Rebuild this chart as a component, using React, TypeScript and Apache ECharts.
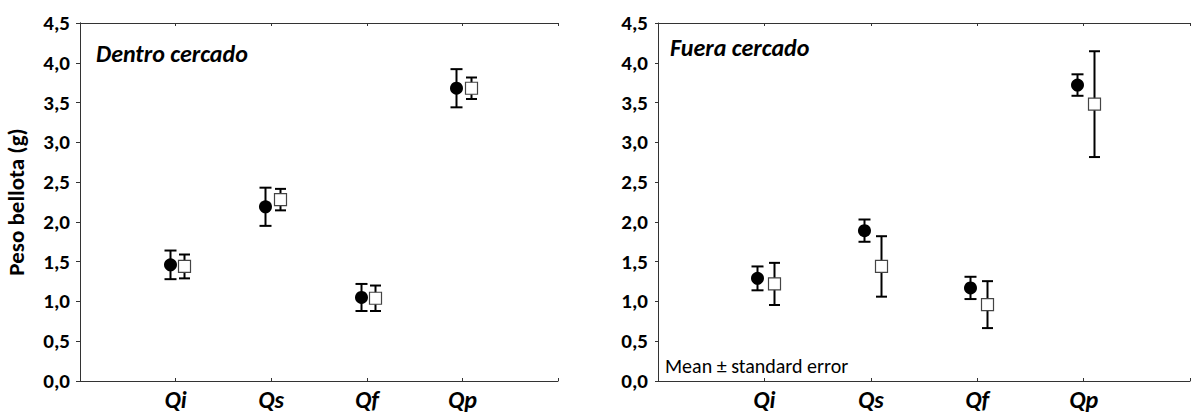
import React, { useEffect, useRef } from "react";
import * as echarts from "echarts";

// Species on the x axis
const categories = ["Qi", "Qs", "Qf", "Qp"];
const yTicks = [0, 0.5, 1, 1.5, 2, 2.5, 3, 3.5, 4, 4.5];

// Dentro cercado: filled circles and open squares (mean and standard error, g)
const dentroCircleMean = [1.46, 2.19, 1.05, 3.68];
const dentroCircleSE = [0.18, 0.24, 0.17, 0.24];
const dentroSquareMean = [1.44, 2.28, 1.04, 3.68];
const dentroSquareSE = [0.15, 0.135, 0.16, 0.135];

// Fuera cercado
const fueraCircleMean = [1.29, 1.89, 1.17, 3.72];
const fueraCircleSE = [0.15, 0.14, 0.14, 0.135];
const fueraSquareMean = [1.22, 1.44, 0.96, 3.48];
const fueraSquareSE = [0.265, 0.38, 0.295, 0.665];

const FONT = 'Carlito, "Open Sans", sans-serif';
const AXIS_COLOR = "#333";

function toData(mean: number[], se: number[]) {
  return categories.map((_, i) => [i + 1, mean[i], se[i]]);
}

function errorSeries(
  gridIndex: number,
  data: number[][],
  kind: "circle" | "square",
  dx: number
) {
  return {
    type: "custom",
    xAxisIndex: gridIndex * 2,
    yAxisIndex: gridIndex * 2,
    data,
    clip: false,
    renderItem: (params: any, api: any) => {
      const x = api.value(0);
      const m = api.value(1);
      const s = api.value(2);
      const c = api.coord([x, m]);
      const hi = api.coord([x, m + s]);
      const lo = api.coord([x, m - s]);
      const px = Math.round(c[0] + dx) + 0.5;
      const cap = kind === "circle" ? 6 : 5.5;
      const line = { stroke: "#000", lineWidth: 2 };
      const children: any[] = [
        { type: "line", shape: { x1: px, y1: hi[1], x2: px, y2: lo[1] }, style: line },
        { type: "line", shape: { x1: px - cap, y1: hi[1], x2: px + cap, y2: hi[1] }, style: line },
        { type: "line", shape: { x1: px - cap, y1: lo[1], x2: px + cap, y2: lo[1] }, style: line },
      ];
      if (kind === "circle") {
        children.push({
          type: "circle",
          shape: { cx: px, cy: c[1], r: 6.5 },
          style: { fill: "#000" },
        });
      } else {
        children.push({
          type: "rect",
          shape: { x: px - 6, y: c[1] - 6, width: 12, height: 12 },
          style: { fill: "#fff", stroke: "#444", lineWidth: 1.2 },
        });
      }
      return { type: "group", children };
    },
  };
}

function xAxes(gridIndex: number) {
  const base = {
    type: "value",
    gridIndex,
    min: 0,
    max: 5,
    interval: 1,
    splitLine: { show: false },
    axisLine: { show: true, onZero: false, lineStyle: { color: AXIS_COLOR, width: 1 } },
  };
  return [
    {
      ...base,
      position: "bottom",
      axisTick: { show: true, inside: true, length: 3, lineStyle: { color: AXIS_COLOR } },
      axisLabel: {
        show: true,
        margin: 6,
        fontFamily: FONT,
        fontSize: 24,
        fontWeight: "bold",
        fontStyle: "italic",
        color: "#000",
        formatter: (v: number) => categories[v - 1] ?? "",
      },
    },
    {
      ...base,
      position: "top",
      axisTick: { show: true, inside: true, length: 3, lineStyle: { color: AXIS_COLOR } },
      axisLabel: { show: false },
    },
  ];
}

function yAxes(gridIndex: number, withName: boolean, mirror: boolean) {
  const base = {
    type: "value",
    gridIndex,
    min: 0,
    max: 4.5,
    interval: 0.5,
    splitLine: { show: false },
    axisLine: { show: true, lineStyle: { color: AXIS_COLOR, width: 1 } },
  };
  return [
    {
      ...base,
      position: "left",
      name: withName ? "Peso bellota (g)" : "",
      nameLocation: "middle",
      nameGap: 53,
      nameTextStyle: { fontFamily: FONT, fontSize: 23, fontWeight: "bold", color: "#000" },
      axisTick: { show: true, inside: false, length: 3, lineStyle: { color: AXIS_COLOR } },
      axisLabel: {
        show: true,
        margin: 10,
        fontFamily: FONT,
        fontSize: 21,
        fontWeight: "bold",
        color: "#000",
        formatter: (v: number) => {
          const t = yTicks.find((k) => Math.abs(k - v) < 1e-9);
          return t === undefined ? "" : t.toFixed(1).replace(".", ",");
        },
      },
    },
    {
      ...base,
      position: "right",
      axisLine: { show: mirror, lineStyle: { color: AXIS_COLOR, width: 1 } },
      axisTick: { show: mirror, inside: true, length: 4, lineStyle: { color: AXIS_COLOR } },
      axisLabel: { show: false },
    },
  ];
}

export default function App() {
  const ref = useRef<HTMLDivElement>(null);

  useEffect(() => {
    if (!ref.current) return;
    const chart = echarts.init(ref.current, undefined, { renderer: "svg" });
    chart.setOption({
      animation: false,
      backgroundColor: "#fff",
      grid: [
        { left: 80, top: 23, width: 478, height: 358 },
        { left: 658, top: 23, width: 546, height: 358 },
      ],
      xAxis: [...xAxes(0), ...xAxes(1)],
      yAxis: [...yAxes(0, true, true), ...yAxes(1, false, false)],
      graphic: [
        {
          type: "text",
          left: 96,
          top: 41,
          style: {
            text: "Dentro cercado",
            font: `italic bold 24px ${FONT}`,
            fill: "#000",
          },
        },
        {
          type: "text",
          left: 670,
          top: 35,
          style: {
            text: "Fuera cercado",
            font: `italic bold 24px ${FONT}`,
            fill: "#000",
          },
        },
        {
          type: "text",
          left: 665,
          top: 356,
          style: {
            text: "Mean ± standard error",
            font: `20px ${FONT}`,
            fill: "#000",
          },
        },
      ],
      series: [
        errorSeries(0, toData(dentroCircleMean, dentroCircleSE), "circle", -6),
        errorSeries(0, toData(dentroSquareMean, dentroSquareSE), "square", 8.5),
        errorSeries(1, toData(fueraCircleMean, fueraCircleSE), "circle", -7),
        errorSeries(1, toData(fueraSquareMean, fueraSquareSE), "square", 10),
      ],
    });
    return () => chart.dispose();
  }, []);

  return (
    <div
      ref={ref}
      style={{ position: "fixed", left: 0, top: 0, width: 1193, height: 414, background: "#fff" }}
    />
  );
}
